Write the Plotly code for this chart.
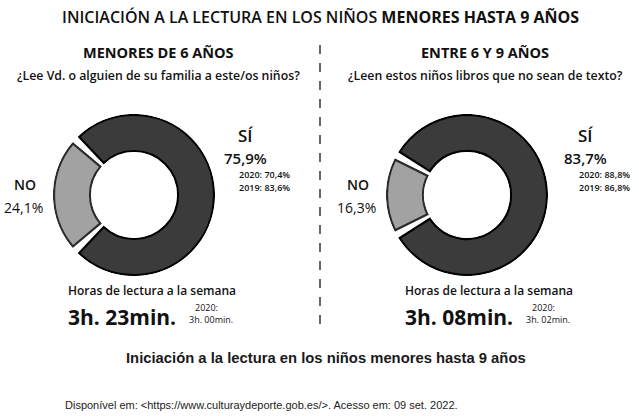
import plotly.graph_objects as go
import numpy as np

W, H = 639, 416

# ---- data ----
groups = ["MENORES DE 6 AÑOS", "ENTRE 6 Y 9 AÑOS"]
questions = ["¿Lee Vd. o alguien de su familia a este/os niños?",
             "¿Leen estos niños libros que no sean de texto?"]
categories = ["NO", "SÍ"]
share_no = [24.1, 16.3]
share_si = [75.9, 83.7]
si_2020 = ["70,4%", "88,8%"]
si_2019 = ["83,6%", "86,8%"]
hours_2022 = ["3h. 23min.", "3h. 08min."]
hours_2020 = ["3h. 00min.", "3h. 02min."]

FONT = "Open Sans"
C_SI = "#3b3b3b"
C_NO = "#a2a2a2"

def px(x):
    return x / W

def py(y):
    return 1 - y / H

fig = go.Figure()

centers = [(134, 195), (467, 195)]
R_OUT, R_IN = 80, 44
GAP = 6.5  # degrees of white separation between slices

ann = []
for i, (cx, cy) in enumerate(centers):
    vals = [share_no[i], share_si[i]]
    tot = sum(vals)
    ang = [v / tot * 360 for v in vals]
    start = 270 - ang[0] / 2
    thetas = [start + ang[0] / 2, start + ang[0] + ang[1] / 2]
    widths = [a - GAP for a in ang]
    rmin, rmax = -0.03, 1.03
    k = (R_OUT - R_IN) * (rmax - rmin)  # R*(1-h)
    hR = R_IN - (0 - rmin) / (rmax - rmin) * k
    Rp = hR + k
    hole = hR / Rp
    pname = "polar" if i == 0 else "polar2"
    fig.add_trace(go.Barpolar(
        r=[1, 1], base=[0, 0], theta=thetas, width=widths,
        marker=dict(color=[C_NO, C_SI], line=dict(color=["#2b2b2b", "#000000"], width=2.2)),
        subplot=pname, showlegend=False, hoverinfo="skip"))
    fig.layout[pname] = dict(
        domain=dict(x=[px(cx - Rp), px(cx + Rp)], y=[py(cy + Rp), py(cy - Rp)]),
        hole=hole, bgcolor="rgba(0,0,0,0)",
        radialaxis=dict(range=[rmin, rmax], visible=False),
        angularaxis=dict(visible=False, rotation=90, direction="clockwise"))

def add_text(x, y, text, size, weight=400, xanchor="center", family=FONT, color="#111"):
    ann.append(dict(x=px(x), y=py(y), xref="paper", yref="paper", text=text,
                    showarrow=False, xanchor=xanchor, yanchor="middle",
                    font=dict(family=family, size=size, color=color, weight=weight)))

# title
add_text(320, 17, "INICIACIÓN A LA LECTURA EN LOS NIÑOS <b>MENORES HASTA 9 AÑOS</b>", 16, 600)

sub_cx = [158, 485]
for i in range(2):
    add_text(sub_cx[i], 52, groups[i], 14.5, 700)
    add_text(sub_cx[i], 75, questions[i], 12.3, 600)

# donut labels
si_x = [245, 585]
no_x = [25, 358]
for i in range(2):
    add_text(si_x[i], 135, "SÍ", 17, 600)
    add_text(si_x[i], 158, f"{share_si[i]:.1f}%".replace(".", ","), 15, 600)
    add_text(si_x[i] - 8, 175, f"2020: {si_2020[i]}", 9, 600, xanchor="left")
    add_text(si_x[i] - 8, 187, f"2019: {si_2019[i]}", 9, 600, xanchor="left")
    add_text(no_x[i], 184, categories[0], 14, 600)
    add_text(no_x[i] - 2, 207, f"{share_no[i]:.1f}%".replace(".", ","), 14, 500)

h_x = [66, 403]
for i in range(2):
    add_text(h_x[i], 290, "Horas de lectura a la semana", 12, 600, xanchor="left")
    add_text(h_x[i], 317, hours_2022[i], 21, 700, xanchor="left")
    add_text(h_x[i] + 140, 307, "2020:", 9, 500)
    add_text(h_x[i] + 145, 319, hours_2020[i], 9, 500)

add_text(326, 358, "Iniciación a la lectura en los niños menores hasta 9 años", 14.8, 700,
         family="Liberation Sans", color="#1a1a1a")
add_text(63, 405, "Disponível em: <https://www.culturaydeporte.gob.es/>. Acesso em: 09 set. 2022.",
         11, 400, xanchor="left", family="Liberation Sans", color="#222")

fig.update_layout(
    width=W, height=H, margin=dict(l=0, r=0, t=0, b=0),
    paper_bgcolor="white", plot_bgcolor="white",
    annotations=ann,
    shapes=[dict(type="line", xref="paper", yref="paper", x0=px(320), x1=px(320),
                 y0=py(45), y1=py(332), line=dict(color="#333", width=1.5, dash="dash"))],
)

fig.write_html("out.html")
